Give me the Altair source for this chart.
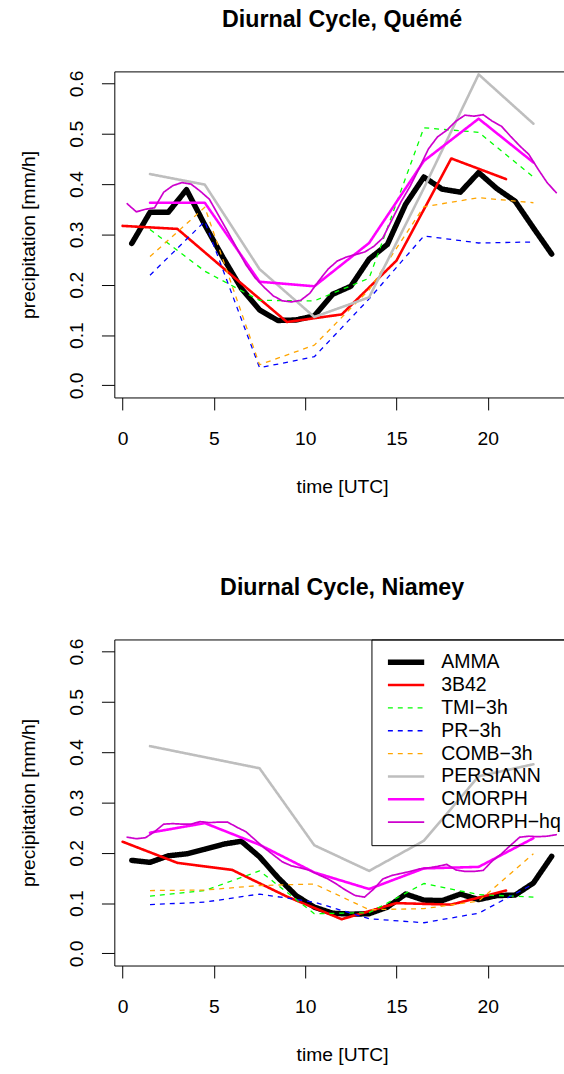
import altair as alt
import pandas as pd

SERIES = ["AMMA", "3B42", "TMI\u22123h", "PR\u22123h", "COMB\u22123h", "PERSIANN", "CMORPH", "CMORPH\u2212hq"]
COLORS = ["#000000", "#FF0000", "#00FF00", "#0000FF", "#FFA500", "#BEBEBE", "#FF00FF", "#CD00CD"]
WIDTHS = [5.5, 2.6, 1.3, 1.3, 1.3, 2.6, 2.6, 1.7]
DASHES = [[1, 0], [1, 0], [5, 5], [5, 5], [5, 5], [1, 0], [1, 0], [1, 0]]
DASHED = [False, False, True, True, True, False, False, False]

# time grids [UTC hours]
HOURS_1H = [0.5, 1.5, 2.5, 3.5, 4.5, 5.5, 6.5, 7.5, 8.5, 9.5, 10.5, 11.5,
            12.5, 13.5, 14.5, 15.5, 16.5, 17.5, 18.5, 19.5, 20.5, 21.5, 22.5, 23.5]
HOURS_3B42 = [0, 3, 6, 9, 12, 15, 18, 21]
HOURS_3H = [1.5, 4.5, 7.5, 10.5, 13.5, 16.5, 19.5, 22.5]
HOURS_HQ = [0.25 + 0.5 * i for i in range(48)]

# Quémé
AMMA_Q = [0.282, 0.344, 0.344, 0.389, 0.319, 0.254, 0.193, 0.150, 0.129, 0.130, 0.138, 0.181,
          0.197, 0.251, 0.280, 0.360, 0.414, 0.390, 0.384, 0.423, 0.391, 0.366, 0.313, 0.261]
B42_Q = [0.317, 0.311, 0.218, 0.126, 0.141, 0.248, 0.451, 0.410]
TMI_Q = [0.310, 0.227, 0.169, 0.168, 0.213, 0.512, 0.503, 0.414]
PR_Q = [0.219, 0.326, 0.035, 0.057, 0.172, 0.297, 0.283, 0.285]
COMB_Q = [0.256, 0.354, 0.041, 0.080, 0.190, 0.355, 0.373, 0.363]
PERS_Q = [0.420, 0.399, 0.231, 0.136, 0.175, 0.392, 0.618, 0.520]
CMORPH_Q = [0.363, 0.363, 0.206, 0.197, 0.283, 0.446, 0.530, 0.443]
HQ_Q = [0.361, 0.345, 0.350, 0.353, 0.384, 0.397, 0.403, 0.400, 0.386, 0.370, 0.338, 0.306,
        0.273, 0.240, 0.214, 0.195, 0.178, 0.168, 0.166, 0.169, 0.183, 0.208, 0.231, 0.247,
        0.255, 0.260, 0.265, 0.276, 0.293, 0.329, 0.365, 0.396, 0.432, 0.470, 0.494, 0.507,
        0.525, 0.537, 0.535, 0.538, 0.525, 0.515, 0.495, 0.476, 0.459, 0.430, 0.403, 0.383]

# Niamey
AMMA_N = [0.185, 0.181, 0.194, 0.198, 0.207, 0.217, 0.223, 0.192, 0.151, 0.115, 0.092, 0.080,
          0.078, 0.079, 0.092, 0.118, 0.106, 0.105, 0.118, 0.107, 0.115, 0.116, 0.140, 0.193]
B42_N = [0.222, 0.180, 0.166, 0.113, 0.068, 0.100, 0.097, 0.125]
TMI_N = [0.114, 0.125, 0.164, 0.079, 0.081, 0.139, 0.117, 0.112]
PR_N = [0.097, 0.102, 0.118, 0.102, 0.069, 0.061, 0.080, 0.138]
COMB_N = [0.125, 0.126, 0.135, 0.138, 0.087, 0.089, 0.104, 0.198]
PERS_N = [0.412, 0.390, 0.368, 0.215, 0.164, 0.224, 0.352, 0.376]
CMORPH_N = [0.240, 0.259, 0.216, 0.161, 0.128, 0.169, 0.172, 0.229]
HQ_N = [0.231, 0.228, 0.230, 0.242, 0.257, 0.258, 0.257, 0.257, 0.262, 0.260, 0.261, 0.261,
        0.251, 0.242, 0.226, 0.210, 0.196, 0.182, 0.174, 0.170, 0.165, 0.156, 0.148, 0.137,
        0.125, 0.115, 0.112, 0.128, 0.148, 0.155, 0.159, 0.163, 0.168, 0.170, 0.173, 0.177,
        0.166, 0.163, 0.163, 0.165, 0.184, 0.198, 0.215, 0.231, 0.233, 0.232, 0.233, 0.236]

X_TICKS = [0, 5, 10, 15, 20]
Y_TICKS = [0.0, 0.1, 0.2, 0.3, 0.4, 0.5, 0.6]

FONT = "Liberation Sans"


def build(parts):
    rows = []
    for name, hours, vals in parts:
        for h, v in zip(hours, vals):
            rows.append({"series": name, "hour": h, "value": v})
    return pd.DataFrame(rows)


df_q = build([
    (SERIES[0], HOURS_1H, AMMA_Q), (SERIES[1], HOURS_3B42, B42_Q),
    (SERIES[2], HOURS_3H, TMI_Q), (SERIES[3], HOURS_3H, PR_Q),
    (SERIES[4], HOURS_3H, COMB_Q), (SERIES[5], HOURS_3H, PERS_Q),
    (SERIES[6], HOURS_3H, CMORPH_Q), (SERIES[7], HOURS_HQ, HQ_Q),
])
df_n = build([
    (SERIES[0], HOURS_1H, AMMA_N), (SERIES[1], HOURS_3B42, B42_N),
    (SERIES[2], HOURS_3H, TMI_N), (SERIES[3], HOURS_3H, PR_N),
    (SERIES[4], HOURS_3H, COMB_N), (SERIES[5], HOURS_3H, PERS_N),
    (SERIES[6], HOURS_3H, CMORPH_N), (SERIES[7], HOURS_HQ, HQ_N),
])

W = 460.7
H = 329.7

LEGEND = alt.Legend(
    orient="none", legendX=260, legendY=0, title=None,
    symbolType="stroke", symbolSize=1347, clipHeight=20, rowPadding=3.1,
    padding=13, symbolOffset=0.5, labelOffset=14,
    labelFont=FONT, labelFontSize=19.7, labelColor="black", labelLimit=400,
    strokeColor="black",
)


def panel(df, title, show_legend):
    leg = LEGEND if show_legend else None
    layers = []
    for i, name in enumerate(SERIES):
        layer = (
            alt.Chart(df)
            .transform_filter(alt.datum.series == name)
            .mark_line(strokeCap="butt" if DASHED[i] else "round", strokeJoin="round")
            .encode(
                x=alt.X("hour:Q",
                        scale=alt.Scale(domain=[-0.455, 24.5], nice=False, zero=False),
                        axis=alt.Axis(values=X_TICKS, format="d", title="time [UTC]",
                                      tickSize=12.6, labelPadding=19.6, titlePadding=30.2,
                                      labelFlush=False, labelOverlap=False)),
                y=alt.Y("value:Q",
                        scale=alt.Scale(domain=[-0.024, 0.624], nice=False, zero=False),
                        axis=alt.Axis(values=Y_TICKS, format=".1f", title="precipitation [mm/h]",
                                      tickSize=13, labelAngle=270, labelAlign="center",
                                      labelBaseline="bottom", labelPadding=15.2,
                                      titlePadding=28.5, labelFlush=False, labelOverlap=False)),
                color=alt.Color("series:N", scale=alt.Scale(domain=SERIES, range=COLORS), legend=leg),
                strokeDash=alt.StrokeDash("series:N", scale=alt.Scale(domain=SERIES, range=DASHES), legend=leg),
                strokeWidth=alt.StrokeWidth("series:N",
                                            scale=alt.Scale(type="ordinal", domain=SERIES, range=WIDTHS),
                                            legend=leg),
            )
        )
        layers.append(layer)
    return alt.layer(*layers).properties(
        width=W, height=H,
        title=alt.TitleParams(title, font=FONT, fontSize=23.5, fontWeight="bold", color="black",
                              anchor="middle", frame="group", offset=39.3),
    )


top = panel(df_q, "Diurnal Cycle, Qu\u00e9m\u00e9", False)
bottom = panel(df_n, "Diurnal Cycle, Niamey", True)

chart = (
    alt.vconcat(top, bottom, spacing=79.4)
    .resolve_scale(color="independent", strokeDash="independent", strokeWidth="independent")
    .properties(padding={"left": 17.6, "top": 1.2, "right": -12, "bottom": 5.6})
    .configure_view(stroke="black", strokeWidth=1)
    .configure_axis(labelFont=FONT, titleFont=FONT, labelFontSize=19.5, titleFontSize=19.5,
                    labelColor="black", titleColor="black", tickColor="black", tickWidth=1,
                    titleFontWeight="normal", domain=False, grid=False)
)

chart.save("out.html", embed_options={"renderer": "svg", "actions": False})
